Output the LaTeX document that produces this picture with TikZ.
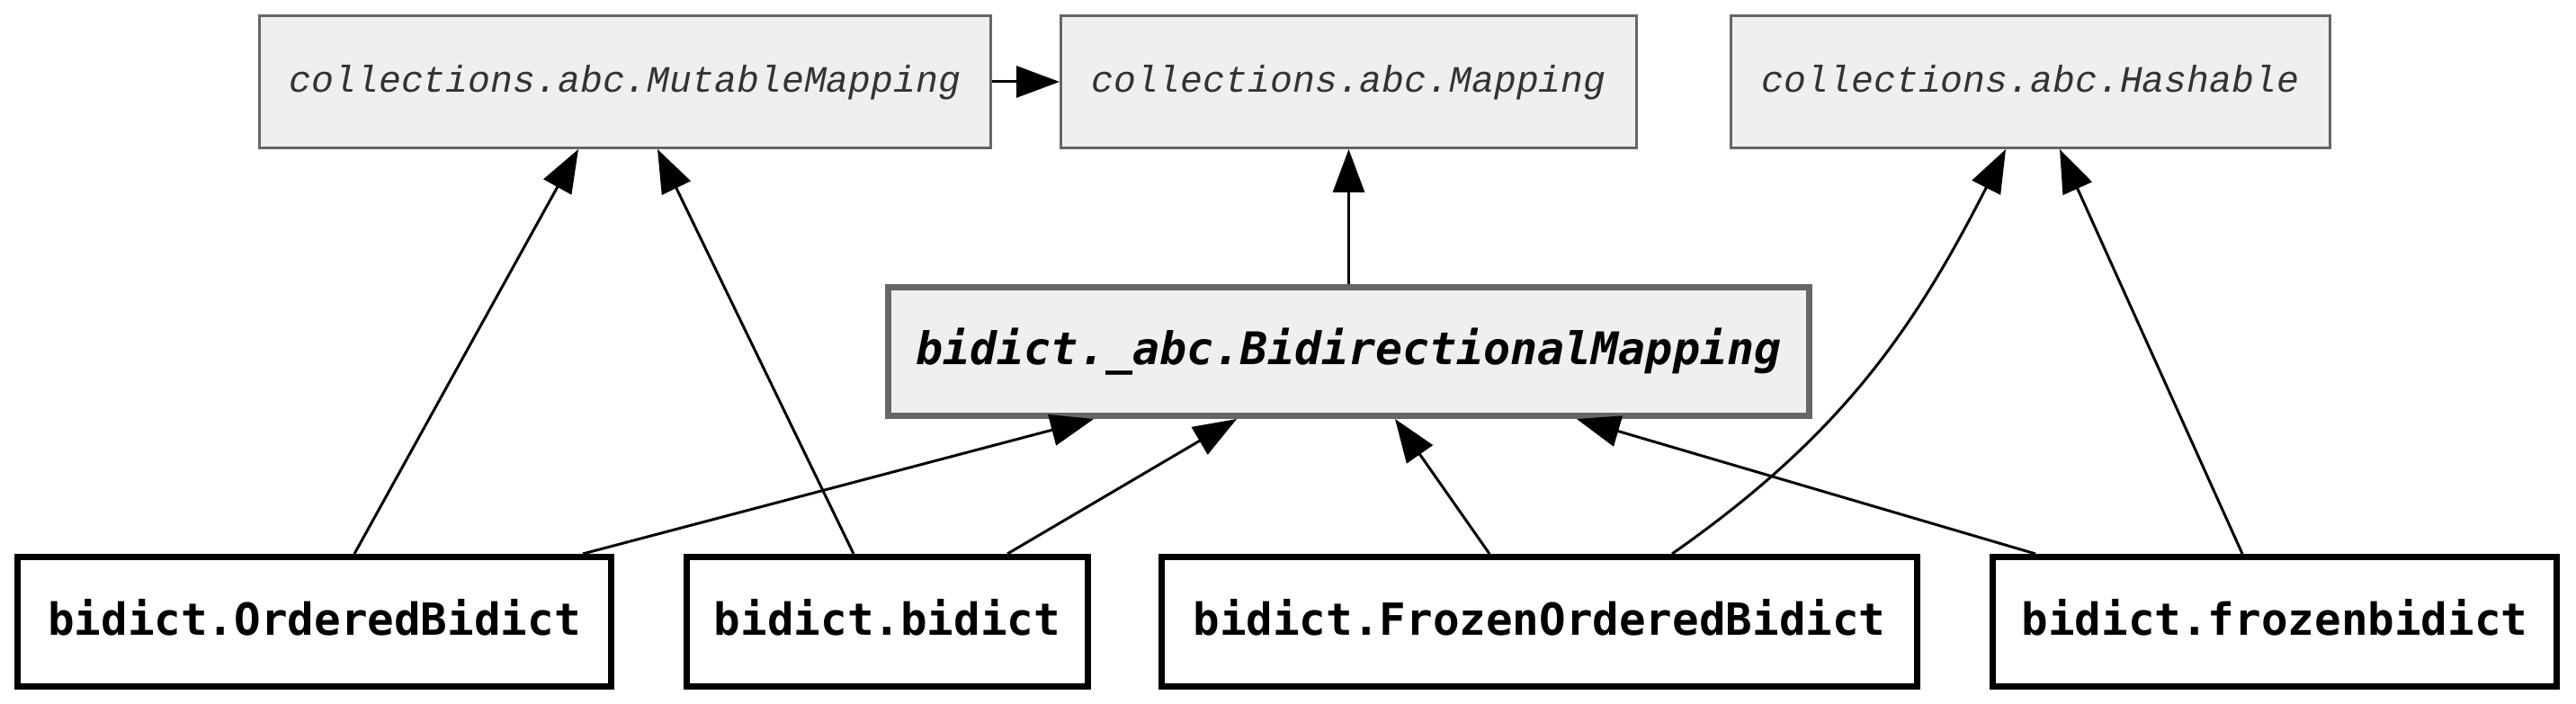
\documentclass[tikz,border=0pt]{standalone}
\usepackage{fontspec}
\usetikzlibrary{positioning,arrows.meta}
\newfontfamily\abcfont{Liberation Mono}
\newfontfamily\clsfont{DejaVu Sans Mono}
\definecolor{abcfill}{HTML}{EFEFEF}
\definecolor{abcline}{HTML}{666666}
\definecolor{abctext}{HTML}{333333}
\tikzset{
  clsabc/.style={draw=abcline, fill=abcfill, line width=0.85pt, inner sep=0pt,
                 text=abctext, font=\abcfont\itshape\fontsize{11.8}{14}\selectfont,
                 text depth=0.21em, minimum height=1.47cm},
  clsbase/.style={draw=abcline, fill=abcfill, line width=2pt, inner sep=0pt,
                  font=\clsfont\bfseries\itshape\fontsize{14.2}{17}\selectfont,
                  minimum width=10.24cm, minimum height=1.43cm},
  clsimpl/.style={draw=black, fill=white, line width=2pt, inner sep=0pt,
                  font=\clsfont\bfseries\fontsize{14}{17}\selectfont,
                  text depth=0.28em, minimum height=1.44cm},
  clsinh/.style={-{Triangle[length=4.8mm,width=3.5mm]}, line width=0.85pt, draw=black},
}
\newcommand{\RTop}{6.92}
\newcommand{\RMid}{3.92}
\newcommand{\RBot}{0.915}

\begin{document}
\begin{tikzpicture}
    \useasboundingbox (0,0) rectangle (28.64,7.83);

      \node[clsabc, minimum width=8.13cm] (mutmap) at (6.95,\RTop) {collections.abc.MutableMapping};
      \node[clsabc, minimum width=6.40cm] (map) at (14.995,\RTop) {collections.abc.Mapping};
      \node[clsabc, minimum width=6.66cm] (hashable) at (22.575,\RTop) {collections.abc.Hashable};

      \node[clsbase] (bimap) at (14.995,\RMid) {bidict.\_abc.BidirectionalMapping};

      \node[clsimpl, minimum width=6.60cm] (ordbi) at (3.495,\RBot) {bidict.OrderedBidict};
      \node[clsimpl, minimum width=4.46cm] (bi) at (9.865,\RBot) {bidict.bidict};
      \node[clsimpl, minimum width=8.40cm] (frozord) at (17.115,\RBot) {bidict.FrozenOrderedBidict};
      \node[clsimpl, minimum width=6.27cm] (frozbi) at (25.29,\RBot) {bidict.frozenbidict};

      \draw[clsinh] (mutmap.east) -- (map.west);
      \draw[clsinh] (bimap.north) -- (map.south);

      \draw[clsinh] ([xshift=0.445cm]ordbi.north) -- ([xshift=-0.52cm]mutmap.south);
      \draw[clsinh] ([xshift=2.985cm]ordbi.north) -- ([xshift=-2.835cm]bimap.south);
      \draw[clsinh] ([xshift=-0.375cm]bi.north) -- ([xshift=0.36cm]mutmap.south);
      \draw[clsinh] ([xshift=1.335cm]bi.north) -- ([xshift=-1.245cm]bimap.south);
      \draw[clsinh] ([xshift=-0.555cm]frozord.north) -- ([xshift=0.515cm]bimap.south);
      \draw[clsinh] ([xshift=1.475cm]frozord.north) to[out=35,in=-117] ([xshift=-0.275cm]hashable.south);
      \draw[clsinh] ([xshift=-2.66cm]frozbi.north) -- ([xshift=2.535cm]bimap.south);
      \draw[clsinh] ([xshift=-0.36cm]frozbi.north) -- ([xshift=0.325cm]hashable.south);

\end{tikzpicture}
\end{document}
